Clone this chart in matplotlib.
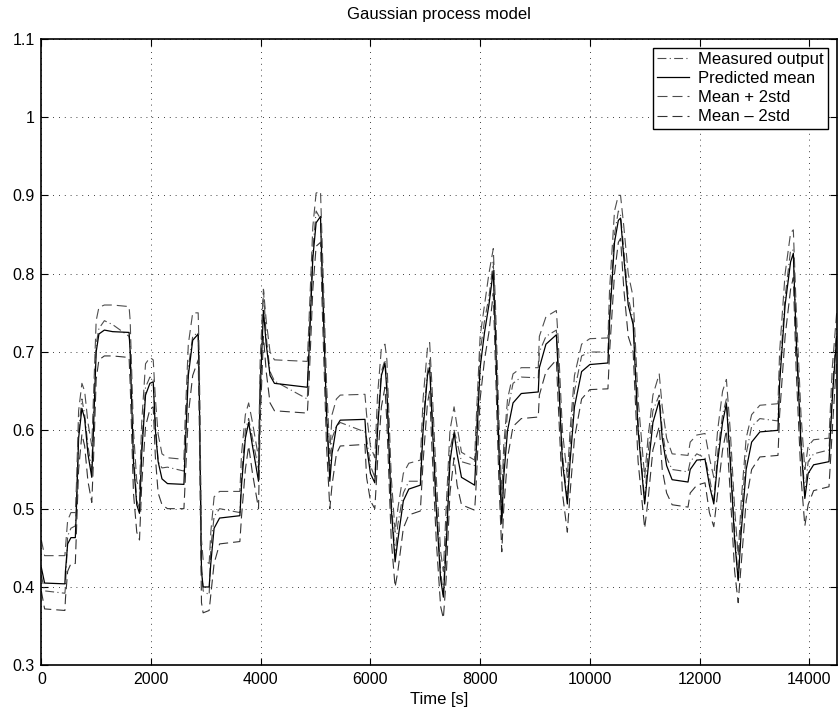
import matplotlib.pyplot as plt
from matplotlib.ticker import FuncFormatter

plt.rcParams['font.family'] = ['Liberation Sans', 'DejaVu Sans']

# time knots [s], one line per section
time = [0, 60, 430, 440, 480, 540, 620,
        640, 680, 740, 790, 850, 920,
        950, 1000, 1050, 1150, 1300, 1600,
        1620, 1680, 1740, 1790,
        1830, 1900, 1980, 2040,
        2080, 2130, 2200, 2300, 2600,
        2620, 2680, 2760, 2860,
        2880, 2920, 2950, 3060,
        3090, 3150, 3250, 3620,
        3650, 3720, 3780, 3850, 3960,
        3990, 4050, 4100, 4170, 4250, 4850,
        4880, 4950, 5010, 5090,
        5120, 5200, 5260, 5300, 5380, 5450, 5900,
        5930, 6000, 6080, 6130, 6200, 6265,
        6300, 6380, 6450, 6500, 6600, 6700, 6910,
        6960, 7040, 7080,
        7120, 7200, 7280, 7330,
        7380, 7450, 7525, 7580, 7660, 7900,
        7920, 8000, 8080, 8160, 8240,
        8280, 8340, 8395,
        8430, 8500, 8600, 8750, 9060,
        9080, 9200, 9390,
        9420, 9500, 9590,
        9640, 9720, 9850, 10000, 10330,
        10360, 10450, 10520, 10560, 10620, 10700, 10790,
        10880, 11000,
        11060, 11150, 11265,
        11320, 11400, 11500, 11790,
        11830, 11950, 12100,
        12180, 12260, 12330, 12420, 12490,
        12560, 12640, 12705,
        12760, 12850, 12950, 13100, 13430,
        13460, 13560, 13660, 13710,
        13760, 13850, 13920,
        13980, 14080, 14360, 14420, 14500]

pred_mean = [0.425, 0.405, 0.404, 0.42, 0.455, 0.463, 0.463,
             0.50, 0.59, 0.628, 0.615, 0.57, 0.54,
             0.60, 0.70, 0.723, 0.728, 0.726, 0.725,
             0.70, 0.56, 0.505, 0.494,
             0.57, 0.645, 0.66, 0.662,
             0.60, 0.56, 0.538, 0.532, 0.531,
             0.57, 0.67, 0.715, 0.723,
             0.65, 0.42, 0.40, 0.40,
             0.43, 0.475, 0.488, 0.491,
             0.53, 0.59, 0.61, 0.58, 0.535,
             0.65, 0.753, 0.71, 0.67, 0.66, 0.655,
             0.70, 0.82, 0.865, 0.873,
             0.80, 0.62, 0.535, 0.57, 0.605, 0.613, 0.614,
             0.58, 0.545, 0.533, 0.60, 0.67, 0.686,
             0.65, 0.50, 0.432, 0.46, 0.51, 0.525, 0.53,
             0.60, 0.67, 0.68,
             0.62, 0.50, 0.41, 0.387,
             0.45, 0.56, 0.597, 0.57, 0.54, 0.53,
             0.56, 0.68, 0.725, 0.76, 0.804,
             0.72, 0.58, 0.481,
             0.54, 0.60, 0.635, 0.647, 0.649,
             0.68, 0.71, 0.722,
             0.68, 0.56, 0.506,
             0.56, 0.63, 0.675, 0.684, 0.686,
             0.74, 0.84, 0.868, 0.871, 0.82, 0.76, 0.735,
             0.60, 0.506,
             0.55, 0.61, 0.638,
             0.59, 0.555, 0.537, 0.534,
             0.55, 0.562, 0.563,
             0.53, 0.506, 0.56, 0.61, 0.634,
             0.56, 0.46, 0.408,
             0.47, 0.55, 0.585, 0.598, 0.60,
             0.66, 0.76, 0.815, 0.826,
             0.72, 0.58, 0.513,
             0.545, 0.556, 0.56, 0.64, 0.72]

upper = [0.46, 0.44, 0.44, 0.45, 0.485, 0.495, 0.495,
         0.53, 0.625, 0.66, 0.65, 0.61, 0.58,
         0.64, 0.74, 0.757, 0.76, 0.76, 0.758,
         0.74, 0.60, 0.535, 0.525,
         0.61, 0.685, 0.693, 0.69,
         0.64, 0.595, 0.57, 0.565, 0.563,
         0.61, 0.71, 0.75, 0.75,
         0.69, 0.46, 0.435, 0.43,
         0.47, 0.515, 0.522, 0.522,
         0.57, 0.62, 0.635, 0.61, 0.565,
         0.69, 0.78, 0.74, 0.70, 0.69, 0.688,
         0.74, 0.86, 0.903, 0.905,
         0.84, 0.66, 0.57, 0.62, 0.64, 0.645, 0.646,
         0.62, 0.58, 0.565, 0.645, 0.705, 0.71,
         0.69, 0.54, 0.47, 0.50, 0.545, 0.558, 0.562,
         0.64, 0.705, 0.712,
         0.66, 0.54, 0.445, 0.42,
         0.50, 0.60, 0.63, 0.605, 0.572, 0.562,
         0.60, 0.72, 0.76, 0.80, 0.832,
         0.76, 0.62, 0.515,
         0.58, 0.64, 0.672, 0.68, 0.68,
         0.72, 0.745, 0.753,
         0.72, 0.60, 0.54,
         0.60, 0.67, 0.71, 0.717, 0.718,
         0.78, 0.88, 0.90, 0.90, 0.86, 0.80, 0.77,
         0.64, 0.54,
         0.59, 0.645, 0.672,
         0.63, 0.59, 0.57, 0.568,
         0.585, 0.594, 0.596,
         0.565, 0.54, 0.60, 0.65, 0.665,
         0.60, 0.50, 0.44,
         0.51, 0.59, 0.62, 0.632, 0.634,
         0.70, 0.80, 0.852, 0.856,
         0.76, 0.62, 0.55,
         0.58, 0.588, 0.59, 0.68, 0.75]

lower = [0.395, 0.372, 0.37, 0.385, 0.42, 0.43, 0.43,
         0.47, 0.55, 0.595, 0.58, 0.535, 0.508,
         0.56, 0.665, 0.69, 0.695, 0.695, 0.693,
         0.66, 0.52, 0.47, 0.46,
         0.53, 0.605, 0.627, 0.63,
         0.565, 0.52, 0.505, 0.50, 0.50,
         0.53, 0.62, 0.67, 0.69,
         0.61, 0.38, 0.367, 0.37,
         0.39, 0.43, 0.455, 0.458,
         0.49, 0.55, 0.58, 0.545, 0.50,
         0.61, 0.72, 0.675, 0.635, 0.625, 0.622,
         0.66, 0.78, 0.835, 0.84,
         0.76, 0.58, 0.50, 0.53, 0.57, 0.58, 0.582,
         0.54, 0.51, 0.50, 0.56, 0.63, 0.655,
         0.61, 0.46, 0.40, 0.42, 0.475, 0.492, 0.497,
         0.56, 0.635, 0.65,
         0.58, 0.46, 0.375, 0.36,
         0.41, 0.52, 0.565, 0.53, 0.505, 0.498,
         0.52, 0.64, 0.69, 0.725, 0.775,
         0.68, 0.54, 0.445,
         0.50, 0.565, 0.605, 0.615, 0.617,
         0.645, 0.675, 0.69,
         0.64, 0.52, 0.47,
         0.52, 0.59, 0.64, 0.652, 0.653,
         0.70, 0.80, 0.84, 0.845, 0.78, 0.72, 0.70,
         0.56, 0.475,
         0.51, 0.575, 0.605,
         0.55, 0.52, 0.505, 0.502,
         0.52, 0.53, 0.533,
         0.495, 0.477, 0.52, 0.575, 0.60,
         0.52, 0.42, 0.38,
         0.43, 0.51, 0.55, 0.566, 0.568,
         0.62, 0.72, 0.78, 0.795,
         0.68, 0.54, 0.478,
         0.505, 0.523, 0.528, 0.60, 0.69]

measured = [0.415, 0.395, 0.392, 0.40, 0.465, 0.475, 0.478,
            0.50, 0.60, 0.64, 0.62, 0.58, 0.55,
            0.62, 0.71, 0.73, 0.74, 0.735, 0.72,
            0.71, 0.57, 0.51, 0.50,
            0.58, 0.655, 0.668, 0.665,
            0.61, 0.56, 0.552, 0.553, 0.548,
            0.58, 0.68, 0.72, 0.725,
            0.66, 0.43, 0.395, 0.39,
            0.45, 0.49, 0.50, 0.495,
            0.54, 0.60, 0.615, 0.59, 0.55,
            0.66, 0.78, 0.72, 0.675, 0.663, 0.64,
            0.71, 0.83, 0.88, 0.87,
            0.81, 0.63, 0.545, 0.59, 0.605, 0.61, 0.598,
            0.59, 0.555, 0.54, 0.61, 0.675, 0.69,
            0.66, 0.51, 0.44, 0.48, 0.52, 0.535, 0.535,
            0.61, 0.675, 0.69,
            0.63, 0.51, 0.42, 0.39,
            0.47, 0.575, 0.60, 0.585, 0.56, 0.555,
            0.58, 0.70, 0.74, 0.77, 0.815,
            0.73, 0.59, 0.49,
            0.56, 0.625, 0.66, 0.668, 0.667,
            0.70, 0.72, 0.728,
            0.69, 0.57, 0.51,
            0.58, 0.65, 0.695, 0.70, 0.70,
            0.75, 0.85, 0.88, 0.875, 0.83, 0.77, 0.74,
            0.61, 0.51,
            0.57, 0.625, 0.645,
            0.60, 0.565, 0.55, 0.547,
            0.56, 0.57, 0.565,
            0.54, 0.51, 0.57, 0.62, 0.64,
            0.57, 0.47, 0.41,
            0.49, 0.57, 0.605, 0.615, 0.612,
            0.67, 0.77, 0.83, 0.83,
            0.73, 0.59, 0.52,
            0.56, 0.57, 0.575, 0.65, 0.73]

assert len(time) == len(pred_mean) == len(upper) == len(lower) == len(measured)

fig = plt.figure(figsize=(8.38, 7.17), dpi=100)
ax = fig.add_axes([0.0493, 0.0721, 0.9491, 0.8739])

ax.plot(time, measured, color='0.3', lw=0.8, dashes=(8, 3, 1, 3), label='Measured output')
ax.plot(time, pred_mean, color='k', lw=0.9, label='Predicted mean')
ax.plot(time, upper, color='0.3', lw=0.8, dashes=(9, 4.5), label='Mean + 2std')
ax.plot(time, lower, color='0.2', lw=0.8, dashes=(9, 4.5), label='Mean \u2013 2std')

ax.set_xlim(0, 14500)
ax.set_ylim(0.3, 1.1)
ax.set_xticks(range(0, 14001, 2000))
ax.set_yticks([0.3, 0.4, 0.5, 0.6, 0.7, 0.8, 0.9, 1.0, 1.1])
ax.yaxis.set_major_formatter(FuncFormatter(lambda v, p: '%g' % round(v, 2)))
ax.grid(True, color='k', linestyle=(0, (1, 6)), linewidth=0.6)
ax.tick_params(direction='in', top=True, right=True, length=5, labelsize=11.5, pad=4.5)
for s in ax.spines.values():
    s.set_linewidth(1.2)

ax.set_title('Gaussian process model', fontsize=12, pad=14)
ax.set_xlabel('Time [s]', fontsize=12, labelpad=4)

leg = ax.legend(loc='upper right', fontsize=12, handlelength=1.9, handletextpad=0.55,
                fancybox=False, framealpha=1, edgecolor='k', borderpad=0.25,
                borderaxespad=0.54, labelspacing=0.25)
leg.get_frame().set_linewidth(1.0)

fig.savefig('out.png', dpi=100)
